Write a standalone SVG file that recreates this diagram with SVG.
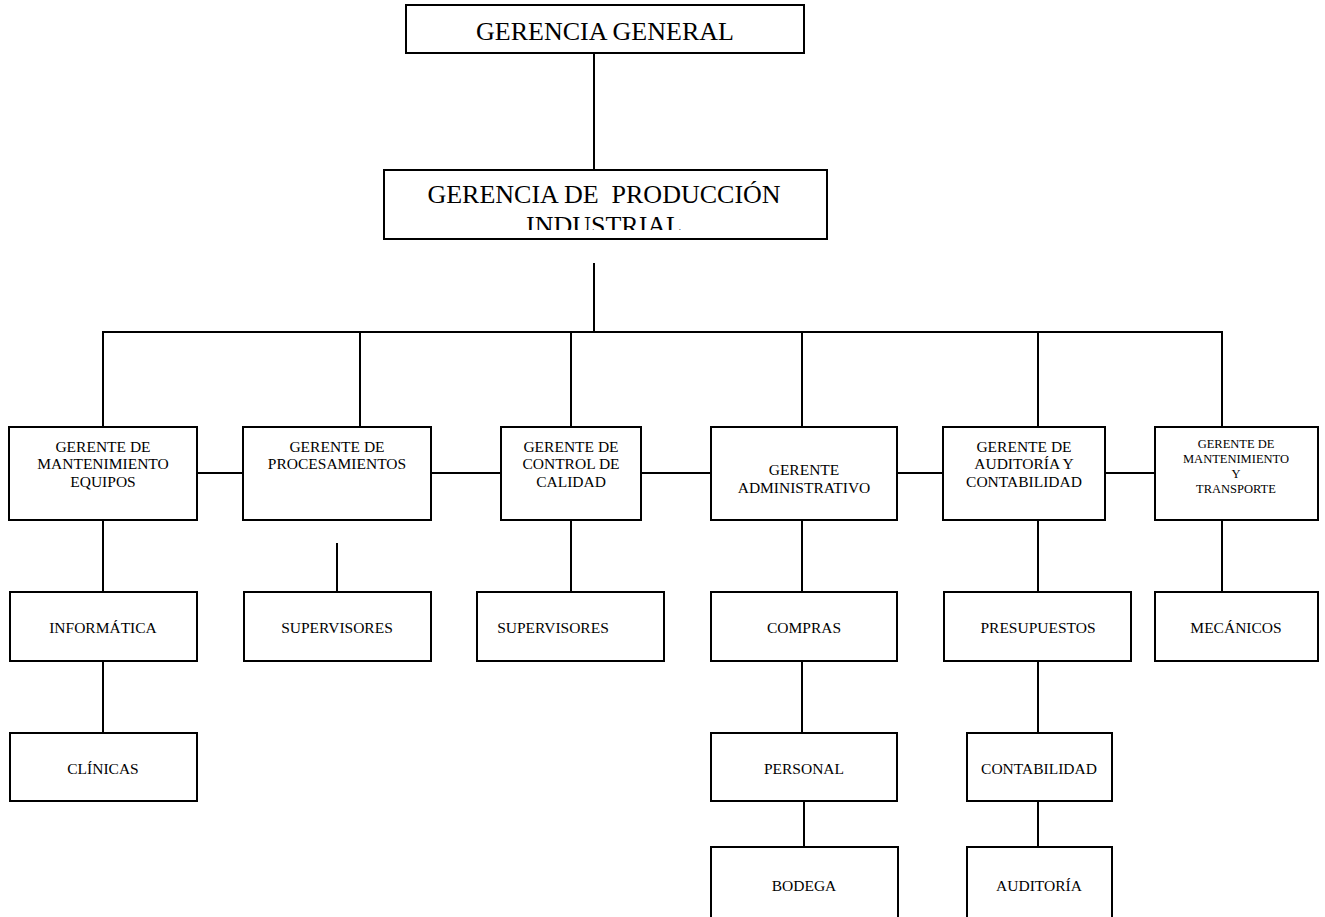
<svg xmlns="http://www.w3.org/2000/svg" width="1325" height="917" viewBox="0 0 1325 917">
<style>
rect{fill:#fff;stroke:#000;stroke-width:2}
.c line{stroke:#000;stroke-width:2}
text{font-family:"Liberation Serif","Times New Roman",serif;fill:#000;text-anchor:middle}
.s{font-size:15.5px}
.xs{font-size:12.5px}
.b{font-size:26px}
</style>
<defs>
<clipPath id="clipProd"><rect x="384" y="170" width="443" height="60"/></clipPath>
</defs>
<g class="c" id="connectors">
<line x1="594" y1="53" x2="594" y2="170"/>
<line x1="594" y1="263" x2="594" y2="332"/>
<line x1="102" y1="332" x2="1223" y2="332"/>
<line x1="103" y1="332" x2="103" y2="427"/>
<line x1="360" y1="332" x2="360" y2="427"/>
<line x1="571" y1="332" x2="571" y2="427"/>
<line x1="802" y1="332" x2="802" y2="427"/>
<line x1="1038" y1="332" x2="1038" y2="427"/>
<line x1="1222" y1="332" x2="1222" y2="427"/>
<line x1="197" y1="473" x2="243" y2="473"/>
<line x1="431" y1="473" x2="501" y2="473"/>
<line x1="641" y1="473" x2="711" y2="473"/>
<line x1="897" y1="473" x2="943" y2="473"/>
<line x1="1105" y1="473" x2="1155" y2="473"/>
<line x1="103" y1="520" x2="103" y2="592"/>
<line x1="103" y1="661" x2="103" y2="733"/>
<line x1="337" y1="543" x2="337" y2="592"/>
<line x1="571" y1="520" x2="571" y2="592"/>
<line x1="802" y1="520" x2="802" y2="592"/>
<line x1="802" y1="661" x2="802" y2="733"/>
<line x1="804" y1="801" x2="804" y2="847"/>
<line x1="1038" y1="520" x2="1038" y2="592"/>
<line x1="1038" y1="661" x2="1038" y2="733"/>
<line x1="1038" y1="801" x2="1038" y2="847"/>
<line x1="1222" y1="520" x2="1222" y2="592"/>
</g>
<g id="gerencia-general">
<rect x="406" y="5" width="398" height="48"/>
<text x="605" y="40" font-size="26">GERENCIA GENERAL</text>
</g>
<g id="gerencia-produccion">
<rect x="384" y="170" width="443" height="69"/>
<g clip-path="url(#clipProd)">
<text class="b" x="604" y="203" xml:space="preserve">GERENCIA DE  PRODUCCIÓN</text>
<text class="b" x="604" y="234">INDUSTRIAL</text>
</g>
</g>
<g id="gerente-mant-equipos">
<rect x="9" y="427" width="188" height="93"/>
<text class="s" x="103" y="452">GERENTE DE</text>
<text class="s" x="103" y="469">MANTENIMIENTO</text>
<text class="s" x="103" y="487">EQUIPOS</text>
</g>
<g id="gerente-procesamientos">
<rect x="243" y="427" width="188" height="93"/>
<text class="s" x="337" y="452">GERENTE DE</text>
<text class="s" x="337" y="469">PROCESAMIENTOS</text>
</g>
<g id="gerente-calidad">
<rect x="501" y="427" width="140" height="93"/>
<text class="s" x="571" y="452">GERENTE DE</text>
<text class="s" x="571" y="469">CONTROL DE</text>
<text class="s" x="571" y="487">CALIDAD</text>
</g>
<g id="gerente-administrativo">
<rect x="711" y="427" width="186" height="93"/>
<text class="s" x="804" y="475">GERENTE</text>
<text class="s" x="804" y="493">ADMINISTRATIVO</text>
</g>
<g id="gerente-auditoria">
<rect x="943" y="427" width="162" height="93"/>
<text class="s" x="1024" y="452">GERENTE DE</text>
<text class="s" x="1024" y="469">AUDITORÍA Y</text>
<text class="s" x="1024" y="487">CONTABILIDAD</text>
</g>
<g id="gerente-mant-transporte">
<rect x="1155" y="427" width="163" height="93"/>
<text class="xs" x="1236" y="448">GERENTE DE</text>
<text class="xs" x="1236" y="463">MANTENIMIENTO</text>
<text class="xs" x="1236" y="478">Y</text>
<text class="xs" x="1236" y="493">TRANSPORTE</text>
</g>
<g id="informatica">
<rect x="10" y="592" width="187" height="69"/>
<text class="s" x="103" y="633">INFORMÁTICA</text>
</g>
<g id="clinicas">
<rect x="10" y="733" width="187" height="68"/>
<text class="s" x="103" y="774">CLÍNICAS</text>
</g>
<g id="supervisores-1">
<rect x="244" y="592" width="187" height="69"/>
<text class="s" x="337" y="633">SUPERVISORES</text>
</g>
<g id="supervisores-2">
<rect x="477" y="592" width="187" height="69"/>
<text class="s" x="553" y="633">SUPERVISORES</text>
</g>
<g id="compras">
<rect x="711" y="592" width="186" height="69"/>
<text class="s" x="804" y="633">COMPRAS</text>
</g>
<g id="personal">
<rect x="711" y="733" width="186" height="68"/>
<text class="s" x="804" y="774">PERSONAL</text>
</g>
<g id="bodega">
<rect x="711" y="847" width="187" height="90"/>
<text class="s" x="804" y="891">BODEGA</text>
</g>
<g id="presupuestos">
<rect x="944" y="592" width="187" height="69"/>
<text class="s" x="1038" y="633">PRESUPUESTOS</text>
</g>
<g id="contabilidad">
<rect x="967" y="733" width="145" height="68"/>
<text class="s" x="1039" y="774">CONTABILIDAD</text>
</g>
<g id="auditoria">
<rect x="967" y="847" width="145" height="90"/>
<text class="s" x="1039" y="891">AUDITORÍA</text>
</g>
<g id="mecanicos">
<rect x="1155" y="592" width="163" height="69"/>
<text class="s" x="1236" y="633">MECÁNICOS</text>
</g>
</svg>
